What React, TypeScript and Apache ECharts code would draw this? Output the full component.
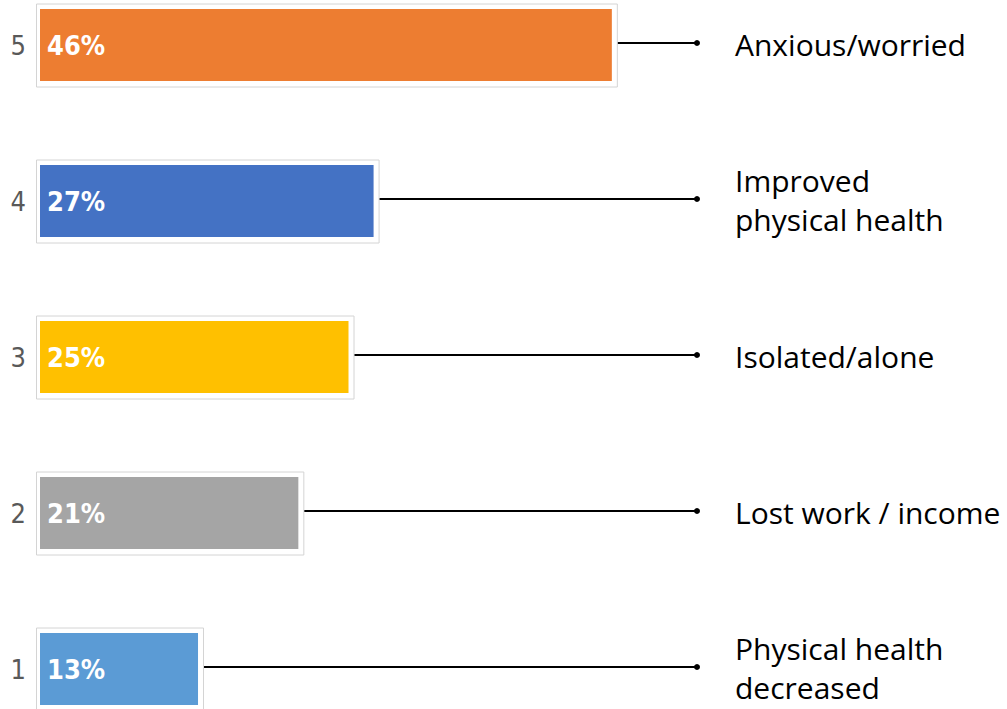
import React, { useEffect, useRef } from "react";
import * as echarts from "echarts";

const categories = ["1", "2", "3", "4", "5"];
const values = [13, 21, 25, 27, 46];
const sideLabels = [
  "Physical health\ndecreased",
  "Lost work / income",
  "Isolated/alone",
  "Improved\nphysical health",
  "Anxious/worried",
];
const barColors = ["#5B9BD5", "#A5A5A5", "#FFC000", "#4472C4", "#ED7D31"];

const NARROW = '"Liberation Sans Narrow", "DejaVu Sans Condensed", "Arial Narrow", sans-serif';
const LABEL_FONT = '"Open Sans", "Noto Sans", sans-serif';

export default function App() {
  const ref = useRef<HTMLDivElement>(null);
  useEffect(() => {
    if (!ref.current) return;
    const chart = echarts.init(ref.current, null, { renderer: "svg" });
    const data = values.map((v, i) => [v, i]);
    chart.setOption({
      animation: false,
      grid: { left: 35, top: 45, width: 627, height: 624 },
      xAxis: { type: "value", min: 0, max: 50, show: false },
      yAxis: {
        type: "category",
        data: categories,
        boundaryGap: false,
        axisLine: { show: false },
        axisTick: { show: false },
        splitLine: { show: false },
        axisLabel: { color: "#595959", fontSize: 27, fontFamily: NARROW, margin: 9 },
      },
      series: [
        {
          type: "custom",
          data,
          clip: false,
          renderItem: (params: any, api: any) => {
            const v = api.value(0);
            const c = api.value(1);
            const p0 = api.coord([0, c]);
            const p1 = api.coord([v, c]);
            const cy = p0[1];
            const idx = params.dataIndex;
            return {
              type: "group",
              children: [
                {
                  type: "rect",
                  shape: { x: p0[0] + 1.5, y: cy - 41, width: p1[0] - p0[0] + 4, height: 83 },
                  style: { fill: "#ffffff", stroke: "#D4D4D4", lineWidth: 1 },
                },
                {
                  type: "rect",
                  shape: { x: p0[0] + 5, y: cy - 36, width: p1[0] - p0[0] - 5, height: 72 },
                  style: { fill: barColors[idx] },
                },
                {
                  type: "text",
                  x: p0[0] + 12,
                  y: cy,
                  style: {
                    text: v + "%",
                    fill: "#ffffff",
                    font: `bold 27px ${NARROW}`,
                    verticalAlign: "middle",
                    align: "left",
                  },
                },
                {
                  type: "line",
                  shape: { x1: p1[0] + 6, y1: cy - 2, x2: 697, y2: cy - 2 },
                  style: { stroke: "#000000", lineWidth: 2 },
                },
                {
                  type: "circle",
                  shape: { cx: 697, cy: cy - 2, r: 3 },
                  style: { fill: "#000000" },
                },
                {
                  type: "text",
                  x: 735,
                  y: cy - 1,
                  style: {
                    text: sideLabels[idx],
                    fill: "#000000",
                    font: `30px ${LABEL_FONT}`,
                    lineHeight: 39,
                    verticalAlign: "middle",
                    align: "left",
                  },
                },
              ],
            };
          },
        },
      ],
    });
    return () => chart.dispose();
  }, []);
  return (
    <div
      ref={ref}
      style={{ position: "fixed", left: 0, top: 0, width: 1007, height: 709, background: "#ffffff" }}
    />
  );
}
